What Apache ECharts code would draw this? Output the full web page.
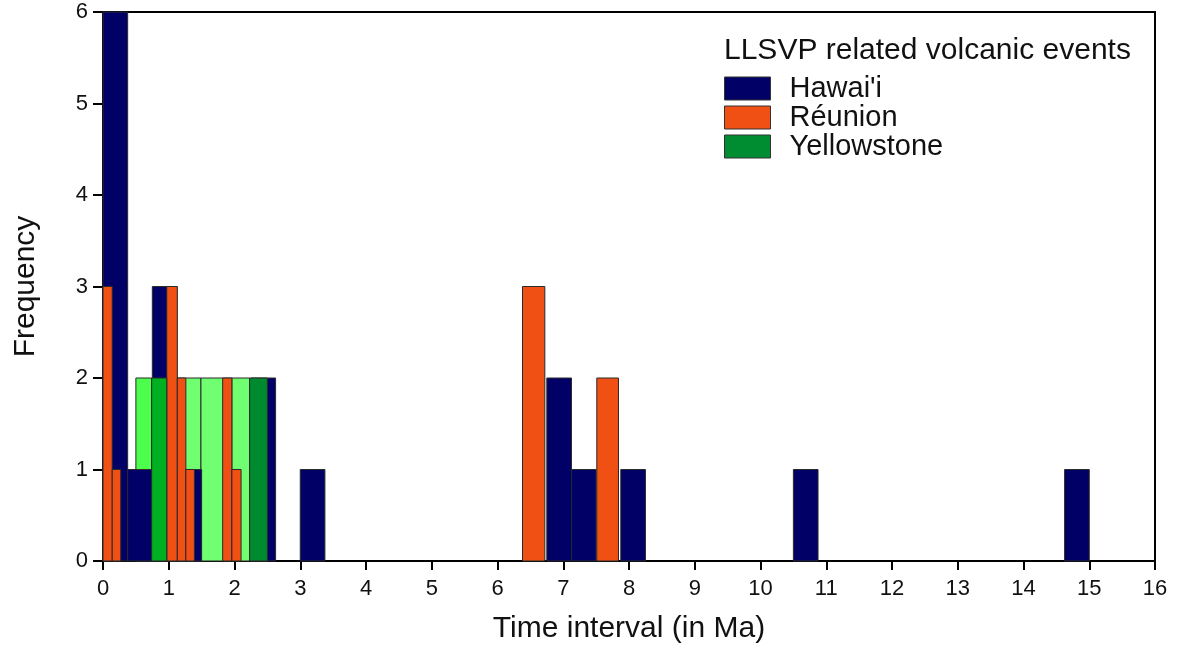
<!DOCTYPE html>
<html>
<head>
<meta charset="utf-8">
<script src="https://cdn.jsdelivr.net/npm/echarts@6/dist/echarts.min.js"></script>
<style>
html, body { margin: 0; padding: 0; background: #fff; }
#main { width: 1180px; height: 650px; }
</style>
</head>
<body>
<div id="main"></div>
<script>
// histogram bins: [start, end) in Ma, and frequency
var hawaiiStart = [0, 0.375, 0.75, 1.125, 2.25, 3.0, 6.75, 7.125, 7.875, 10.5, 14.625];
var hawaiiEnd   = [0.375, 0.75, 1.125, 1.5, 2.625, 3.375, 7.125, 7.5, 8.25, 10.875, 15.0];
var hawaiiCount = [6, 1, 3, 1, 2, 1, 2, 1, 1, 1, 1];

var reunionStart = [0, 0.14, 0.97, 1.13, 1.26, 1.82, 1.96, 6.38, 7.51];
var reunionEnd   = [0.14, 0.27, 1.13, 1.26, 1.39, 1.96, 2.1, 6.72, 7.84];
var reunionCount = [3, 1, 3, 2, 1, 2, 1, 3, 2];

var ysStart = [0.5, 0.74, 1.0, 1.49, 1.96, 2.23];
var ysEnd   = [0.74, 0.97, 1.49, 1.96, 2.23, 2.5];
var ysCount = [2, 2, 2, 2, 2, 2];

var xTicks = [0, 1, 2, 3, 4, 5, 6, 7, 8, 9, 10, 11, 12, 13, 14, 15, 16];
var yTicks = [0, 1, 2, 3, 4, 5, 6];

// styling
var NAVY = '#000066', ORANGE = '#f05014', GREEN = '#008c30';
var ysShade = ['#4dff4d', '#00b020', '#70ff70', '#70ff70', '#70ff70', '#008a30'];
var ysOnTop = [false, true, false, false, false, true];
var FONT = '"Liberation Sans", Arial, sans-serif';

function makeData(start, end, count, layer) {
    var d = [];
    for (var i = 0; i < start.length; i++) {
        d.push([start[i], end[i], count[i], layer]);
    }
    return d;
}

function renderBar(params, api) {
    var a = api.coord([api.value(0), api.value(2)]);
    var b = api.coord([api.value(1), 0]);
    return {
        type: 'rect',
        z2: api.value(3),
        shape: { x: a[0], y: a[1], width: b[0] - a[0], height: b[1] - a[1] },
        style: { fill: api.visual('color'), stroke: '#2a2a2a', lineWidth: 1 }
    };
}

var ysData = [];
for (var i = 0; i < ysStart.length; i++) {
    ysData.push({
        value: [ysStart[i], ysEnd[i], ysCount[i], ysOnTop[i] ? 30 : 5],
        itemStyle: { color: ysShade[i] }
    });
}

var chart = echarts.init(document.getElementById('main'));
var option = {
    animation: false,
    textStyle: { fontFamily: FONT },
    title: {
        text: 'LLSVP related volcanic events',
        left: 724,
        top: 36,
        padding: 0,
        textStyle: { fontSize: 30, fontWeight: 'normal', color: '#111', fontFamily: FONT }
    },
    legend: {
        orient: 'vertical',
        left: 724,
        top: 74,
        padding: 0,
        itemWidth: 46,
        itemHeight: 23,
        itemGap: 0,
        icon: 'rect',
        textStyle: { fontSize: 29, color: '#111', fontFamily: FONT, padding: [0, 0, 0, 14] },
        data: [
            { name: "Hawai'i", itemStyle: { color: NAVY, borderColor: '#333', borderWidth: 1 } },
            { name: 'Réunion', itemStyle: { color: ORANGE, borderColor: '#333', borderWidth: 1 } },
            { name: 'Yellowstone', itemStyle: { color: GREEN, borderColor: '#333', borderWidth: 1 } }
        ]
    },
    grid: {
        left: 103,
        right: 25,
        top: 12,
        bottom: 89,
        show: true,
        borderColor: '#000',
        borderWidth: 2
    },
    xAxis: {
        type: 'value',
        min: xTicks[0],
        max: xTicks[xTicks.length - 1],
        interval: 1,
        name: 'Time interval (in Ma)',
        nameLocation: 'middle',
        nameGap: 53,
        nameTextStyle: { fontSize: 30, color: '#111', fontFamily: FONT },
        axisLine: { lineStyle: { color: '#000', width: 2 } },
        axisTick: { length: 9, lineStyle: { color: '#000', width: 2 } },
        axisLabel: { fontSize: 22, color: '#111', margin: 17 },
        splitLine: { show: false }
    },
    yAxis: {
        type: 'value',
        min: yTicks[0],
        max: yTicks[yTicks.length - 1],
        interval: 1,
        name: 'Frequency',
        nameLocation: 'middle',
        nameGap: 62,
        nameTextStyle: { fontSize: 30, color: '#111', fontFamily: FONT },
        axisLine: { show: true, lineStyle: { color: '#000', width: 2 } },
        axisTick: { show: true, length: 10, lineStyle: { color: '#000', width: 2 } },
        axisLabel: { fontSize: 22, color: '#111', margin: 15 },
        splitLine: { show: false }
    },
    series: [
        {
            name: 'Yellowstone',
            type: 'custom',
            renderItem: renderBar,
            itemStyle: { color: GREEN },
            encode: { x: [0, 1], y: 2 },
            data: ysData
        },
        {
            name: "Hawai'i",
            type: 'custom',
            renderItem: renderBar,
            itemStyle: { color: NAVY },
            encode: { x: [0, 1], y: 2 },
            data: makeData(hawaiiStart, hawaiiEnd, hawaiiCount, 10)
        },
        {
            name: 'Réunion',
            type: 'custom',
            renderItem: renderBar,
            itemStyle: { color: ORANGE },
            encode: { x: [0, 1], y: 2 },
            data: makeData(reunionStart, reunionEnd, reunionCount, 20)
        }
    ]
};
chart.setOption(option);
</script>
</body>
</html>
